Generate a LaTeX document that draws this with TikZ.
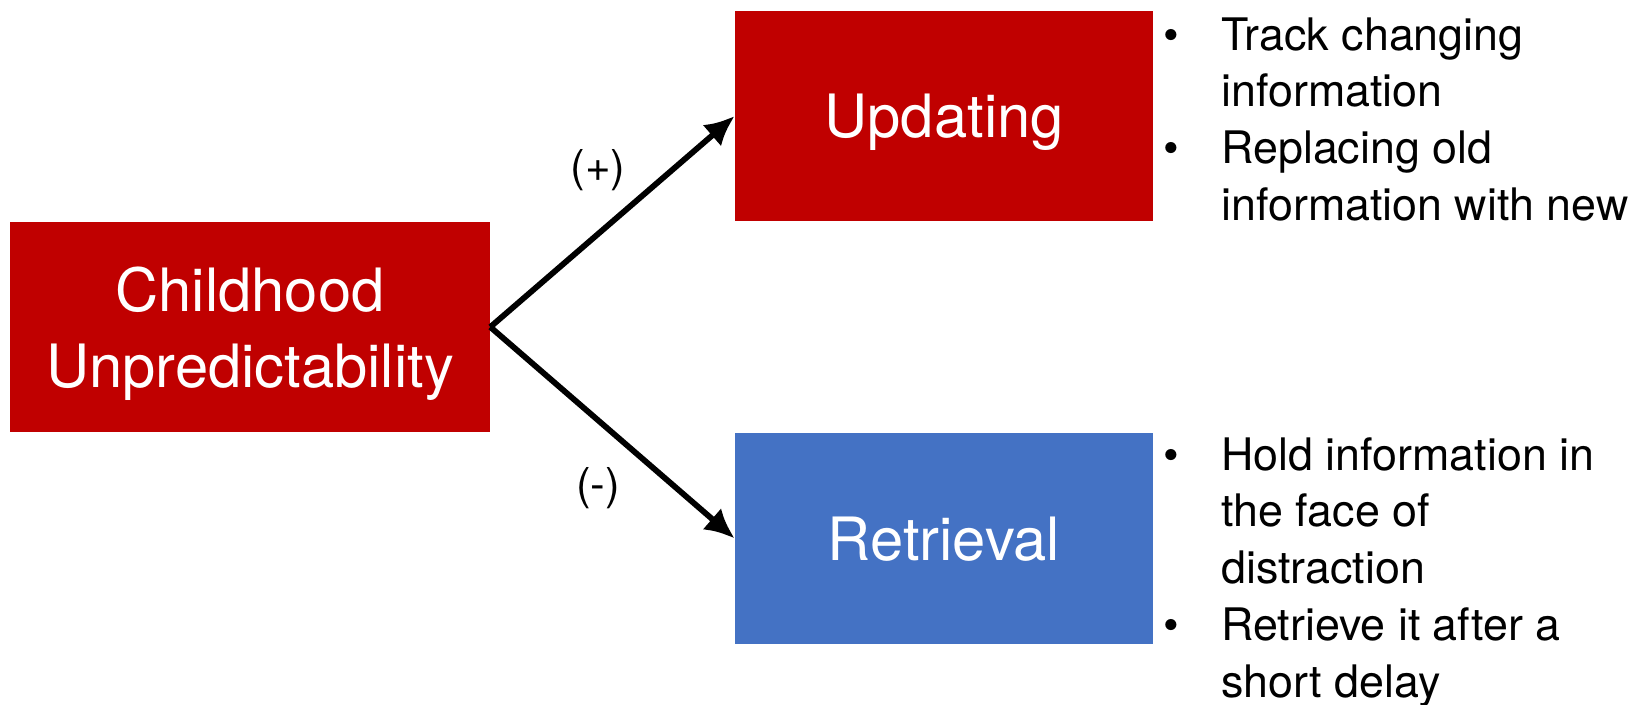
\documentclass[tikz,border=0pt]{standalone}
\usepackage{fontspec}
\setmainfont{TeX Gyre Heros}
\usepackage{tikz}
\usetikzlibrary{arrows.meta,positioning}
\definecolor{boxred}{HTML}{C00000}
\definecolor{boxblue}{HTML}{4472C4}

\begin{document}
\begin{tikzpicture}[x  = {(0.02cm,0cm)},
                    y  = {(0cm,-0.02cm)},
                    color = {black}]
% style of boxes, links and lists
\tikzset{boxstyle/.style={inner sep=0pt,minimum height=4.22cm,text=white,align=center,text depth=0pt,font=\fontsize{34}{43}\selectfont}}
\tikzset{linkstyle/.style={line width=3.3pt,arrows = -{Latex[length=17pt,width=16pt]}}}
\tikzset{liststyle/.style={anchor=base west,inner sep=0pt,align=left,font=\fontsize{25.5}{32.4}\selectfont}}
\tikzset{signstyle/.style={inner sep=0pt,font=\fontsize{25}{30}\selectfont}}
% frame
\useasboundingbox (0,0) rectangle (1644,704);

% boxes
\node[boxstyle,fill=boxred,minimum width=9.6cm] (child) at (250,327) {Childhood\\Unpredictability};
\node[boxstyle,fill=boxred,minimum width=8.36cm] (upd) at (944,116) {Updating};
\node[boxstyle,fill=boxblue,minimum width=8.36cm] (ret) at (944,538.5) {Retrieval};

% links
\draw[linkstyle] (child.east) -- (upd.west);
\draw[linkstyle] (child.east) -- (ret.west);
\node[signstyle] (plus) at (598,170) {(+)};
\node[signstyle] (minus) at (598,488) {(-)};

% lists
\node[liststyle] (updlist) at (1163,50) {\begin{tabular}[t]{@{}p{1.16cm}@{}l@{}}
  \textbullet & Track changing\\
              & information\\
  \textbullet & Replacing old\\
              & information with new
\end{tabular}};
\node[liststyle] (retlist) at (1163,470) {\begin{tabular}[t]{@{}p{1.16cm}@{}l@{}}
  \textbullet & Hold information in\\
              & the face of\\
              & distraction\\
  \textbullet & Retrieve it after a\\
              & short delay
\end{tabular}};
\end{tikzpicture}
\end{document}
